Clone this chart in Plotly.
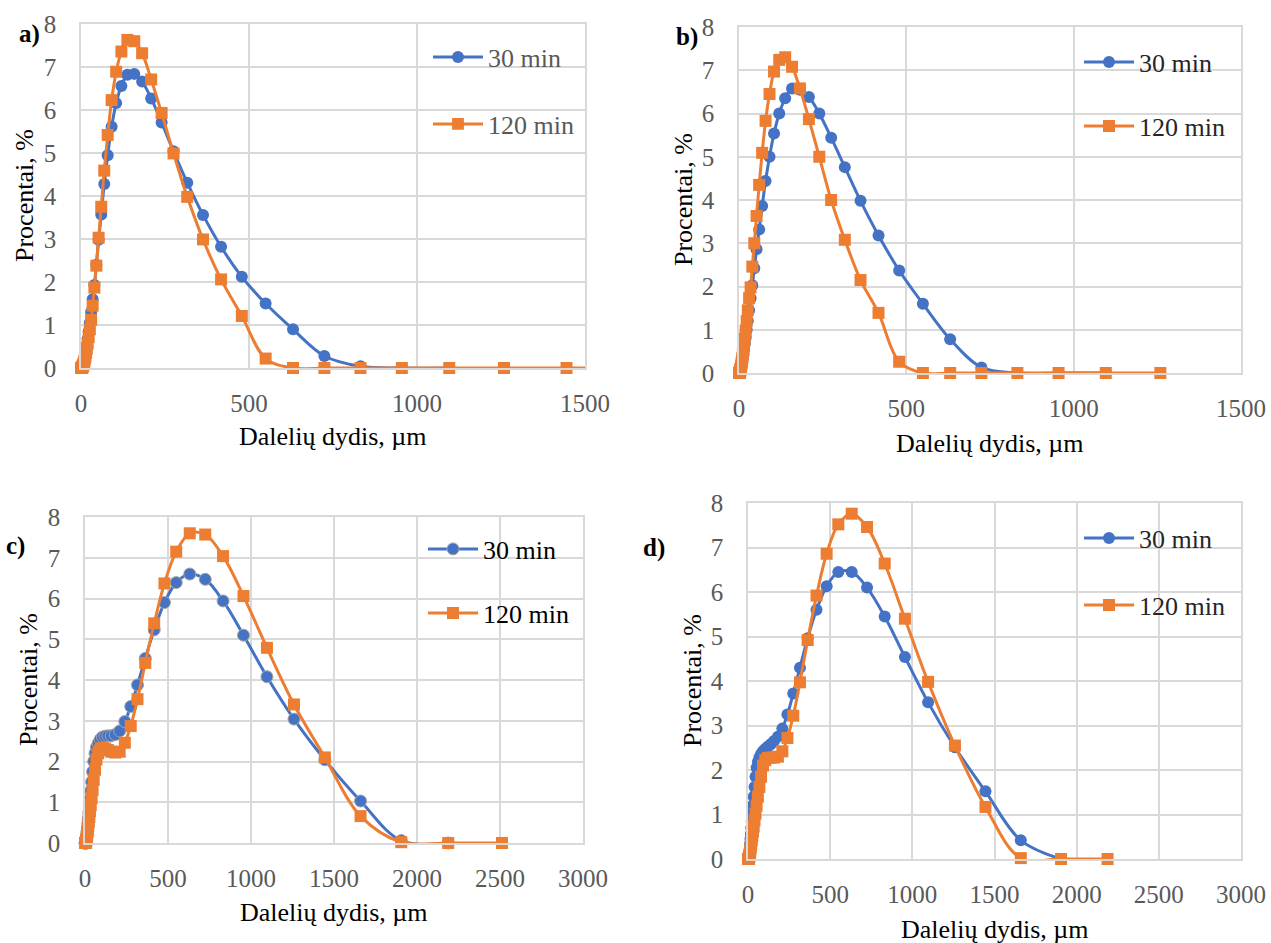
import plotly.graph_objects as go

# ---------------- data ----------------
# particle size classes (µm)
size_um = [1.096, 1.259, 1.445, 1.660, 1.905, 2.188, 2.512, 2.884, 3.311, 3.802,
           4.365, 5.012, 5.754, 6.607, 7.586, 8.710, 10.00, 11.48, 13.18, 15.14,
           17.38, 19.95, 22.91, 26.30, 30.20, 34.67, 39.81, 45.71, 52.48, 60.26,
           69.18, 79.43, 91.20, 104.7, 120.2, 138.0, 158.5, 182.0, 208.9, 239.9,
           275.4, 316.2, 363.1, 416.9, 478.6, 549.5, 631.0, 724.4, 831.8, 954.9,
           1096, 1259, 1445, 1660, 1905, 2188, 2512]

# a) panel
a_30min = [0, 0, 0, 0, 0, 0, 0, 0.01, 0.02, 0.03,
           0.04, 0.05, 0.07, 0.09, 0.12, 0.16, 0.21, 0.27, 0.34, 0.43,
           0.54, 0.68, 0.85, 1.05, 1.30, 1.60, 1.93, 2.40, 2.98, 3.57,
           4.28, 4.95, 5.61, 6.16, 6.56, 6.82, 6.84, 6.66, 6.27, 5.71,
           5.04, 4.31, 3.56, 2.82, 2.12, 1.50, 0.90, 0.28, 0.04, 0,
           0]
a_120min = [0, 0, 0, 0, 0, 0, 0, 0, 0.01, 0.02,
            0.03, 0.04, 0.05, 0.07, 0.09, 0.12, 0.16, 0.21, 0.27, 0.35,
            0.45, 0.57, 0.72, 0.90, 1.12, 1.45, 1.87, 2.38, 3.03, 3.75,
            4.59, 5.42, 6.23, 6.89, 7.36, 7.63, 7.60, 7.32, 6.71, 5.93,
            4.99, 3.98, 2.99, 2.06, 1.21, 0.22, 0, 0, 0, 0,
            0, 0, 0, 0]

# b) panel
b_30min = [0, 0, 0, 0, 0, 0, 0.01, 0.02, 0.03, 0.04,
           0.06, 0.08, 0.10, 0.13, 0.17, 0.22, 0.28, 0.35, 0.44, 0.54,
           0.67, 0.82, 1.00, 1.20, 1.45, 1.73, 2.03, 2.42, 2.86, 3.32,
           3.86, 4.44, 5.00, 5.54, 6.00, 6.35, 6.58, 6.55, 6.38, 6.00,
           5.44, 4.76, 3.98, 3.18, 2.37, 1.60, 0.78, 0.13, 0, 0,
           0]
b_120min = [0, 0, 0, 0, 0, 0.01, 0.02, 0.03, 0.04, 0.06,
            0.08, 0.10, 0.13, 0.17, 0.22, 0.28, 0.35, 0.43, 0.53, 0.65,
            0.80, 0.98, 1.20, 1.45, 1.73, 1.98, 2.46, 3.00, 3.63, 4.35,
            5.09, 5.83, 6.45, 6.97, 7.24, 7.30, 7.08, 6.58, 5.87, 5.00,
            4.00, 3.08, 2.15, 1.39, 0.26, 0, 0, 0, 0, 0,
            0, 0]

# c) panel
c_30min = [0, 0, 0, 0, 0, 0, 0, 0, 0, 0.01,
           0.02, 0.03, 0.05, 0.07, 0.09, 0.13, 0.17, 0.23, 0.30, 0.38,
           0.48, 0.60, 0.74, 0.90, 1.08, 1.28, 1.50, 1.75, 2.00, 2.20,
           2.35, 2.45, 2.54, 2.60, 2.62, 2.63, 2.63, 2.66, 2.75, 2.98,
           3.35, 3.88, 4.53, 5.23, 5.90, 6.39, 6.60, 6.47, 5.94, 5.10,
           4.08, 3.04, 2.04, 1.03, 0.06, 0]
c_120min = [0, 0, 0, 0, 0, 0, 0, 0, 0, 0,
            0.01, 0.02, 0.03, 0.04, 0.06, 0.08, 0.11, 0.15, 0.20, 0.26,
            0.33, 0.42, 0.52, 0.64, 0.78, 0.93, 1.10, 1.30, 1.55, 1.80,
            2.05, 2.20, 2.28, 2.33, 2.32, 2.28, 2.24, 2.22, 2.24, 2.46,
            2.87, 3.53, 4.42, 5.39, 6.37, 7.15, 7.60, 7.57, 7.04, 6.06,
            4.79, 3.40, 2.10, 0.66, 0.02, 0, 0]

# d) panel
d_30min = [0, 0, 0, 0, 0, 0, 0, 0, 0.01, 0.02,
           0.03, 0.04, 0.06, 0.08, 0.11, 0.15, 0.20, 0.27, 0.35, 0.45,
           0.56, 0.70, 0.85, 1.02, 1.20, 1.40, 1.62, 1.85, 2.05, 2.18,
           2.28, 2.36, 2.42, 2.47, 2.52, 2.58, 2.65, 2.75, 2.93, 3.25,
           3.72, 4.30, 4.96, 5.60, 6.13, 6.45, 6.45, 6.10, 5.45, 4.54,
           3.52, 2.51, 1.52, 0.42, 0]
d_120min = [0, 0, 0, 0, 0, 0, 0, 0, 0, 0,
            0.01, 0.02, 0.03, 0.04, 0.05, 0.07, 0.10, 0.13, 0.17, 0.22,
            0.28, 0.35, 0.43, 0.52, 0.62, 0.73, 0.87, 1.02, 1.20, 1.40,
            1.62, 1.85, 2.10, 2.22, 2.27, 2.28, 2.28, 2.30, 2.42, 2.72,
            3.22, 3.97, 4.92, 5.92, 6.86, 7.52, 7.76, 7.46, 6.64, 5.40,
            3.98, 2.55, 1.17, 0.02, 0, 0]

series_names = ["30 min", "120 min"]
panel_labels = ["a)", "b)", "c)", "d)"]
y_ticks = [0, 1, 2, 3, 4, 5, 6, 7, 8]
x_title = "Dalelių dydis, µm"
y_title = "Procentai, %"

# ---------------- layout (pixels) ----------------
W, H = 1271, 943
FONT = "Liberation Serif, Times New Roman, serif"
BLUE, ORANGE = "#4472C4", "#ED7D31"
GRID = "#d9d9d9"

panels = [
    dict(data=(a_30min, a_120min), box=(81, 585, 24, 368), xmax=1500,
         label_xy=(29, 34), ytitle_x=24, xtitle_y=437,
         leg=(432, 57, 124), legcolor="#595959", edge=False),
    dict(data=(b_30min, b_120min), box=(739, 1241, 27, 373), xmax=1500,
         label_xy=(687, 37), ytitle_x=683, xtitle_y=443,
         leg=(1083, 62, 126), legcolor="#262626", edge=False),
    dict(data=(c_30min, c_120min), box=(85, 583, 517, 843), xmax=3000,
         label_xy=(15, 546), ytitle_x=28, xtitle_y=912,
         leg=(427, 549, 613), legcolor="#000000", edge=True),
    dict(data=(d_30min, d_120min), box=(748, 1241, 503, 859), xmax=3000,
         label_xy=(654, 548), ytitle_x=692, xtitle_y=929,
         leg=(1083, 538, 605), legcolor="#262626", edge=False),
]

fig = go.Figure()
layout = dict(width=W, height=H, margin=dict(l=0, r=0, t=0, b=0, autoexpand=False),
              template="none", font=dict(family=FONT),
              paper_bgcolor="white", plot_bgcolor="white", annotations=[])

def px_x(p):
    return p / W

def px_y(p):
    return 1 - p / H

leg_idx = 0
for i, p in enumerate(panels):
    n = "" if i == 0 else str(i + 1)
    x0, x1, y0, y1 = p["box"]
    xmax = p["xmax"]
    for k, (ys, color, symbol) in enumerate(zip(p["data"], (BLUE, ORANGE), ("circle", "square"))):
        xs = size_um[:len(ys)]
        msize = [12 if x <= xmax else 0 for x in xs]
        leg_idx += 1
        legname = "legend" if leg_idx == 1 else f"legend{leg_idx}"
        mline = dict(width=1, color="#a5a5a5") if (p["edge"] and symbol == "circle") else dict(width=0)
        fig.add_trace(go.Scatter(
            x=xs, y=ys, name=series_names[k], mode="lines+markers",
            line=dict(color=color, width=3, shape="spline"),
            marker=dict(symbol=symbol, size=msize, color=color, line=mline, opacity=1),
            cliponaxis=False,
            xaxis="x" + n, yaxis="y" + n, legend=legname, showlegend=True,
        ))
        lx, ly30, ly120 = p["leg"]
        layout[legname] = dict(
            x=px_x(lx - 4), y=px_y(ly30 if k == 0 else ly120),
            xanchor="left", yanchor="middle", bgcolor="rgba(0,0,0,0)",
            borderwidth=0, itemwidth=50,
            font=dict(family=FONT, size=26, color=p["legcolor"]),
        )
    layout["xaxis" + n] = dict(
        domain=[px_x(x0), px_x(x1)], anchor="y" + n, range=[0, xmax], dtick=500,
        automargin=False,
        showgrid=True, gridcolor=GRID, gridwidth=1.5, zeroline=False,
        showline=True, linecolor=GRID, linewidth=1.5, mirror=True,
        ticks="", ticklabelstandoff=12,
        tickfont=dict(family=FONT, size=25, color="#595959"),
    )
    layout["yaxis" + n] = dict(
        domain=[px_y(y1), px_y(y0)], anchor="x" + n, range=[0, 8],
        tickvals=y_ticks, automargin=False,
        showgrid=True, gridcolor=GRID, gridwidth=1.5, zeroline=False,
        showline=True, linecolor=GRID, linewidth=1.5, mirror=True,
        ticks="", ticklabelstandoff=18,
        tickfont=dict(family=FONT, size=25, color="#595959"),
    )
    layout["annotations"] += [
        dict(text=x_title, x=px_x((x0 + x1) / 2), y=px_y(p["xtitle_y"]),
             xref="paper", yref="paper", showarrow=False,
             xanchor="center", yanchor="middle",
             font=dict(family=FONT, size=26, color="#000000")),
        dict(text=y_title, x=px_x(p["ytitle_x"]), y=px_y((y0 + y1) / 2),
             xref="paper", yref="paper", showarrow=False, textangle=-90,
             xanchor="center", yanchor="middle",
             font=dict(family=FONT, size=26, color="#000000")),
        dict(text="<b>" + panel_labels[i] + "</b>", x=px_x(p["label_xy"][0]),
             y=px_y(p["label_xy"][1]), xref="paper", yref="paper", showarrow=False,
             xanchor="center", yanchor="middle",
             font=dict(family=FONT, size=25, color="#000000")),
    ]

fig.update_layout(**layout)
fig.write_html(
    "out.html",
    config={"displayModeBar": False},
    post_script="document.body.style.margin='0';document.body.style.overflow='hidden';",
)
